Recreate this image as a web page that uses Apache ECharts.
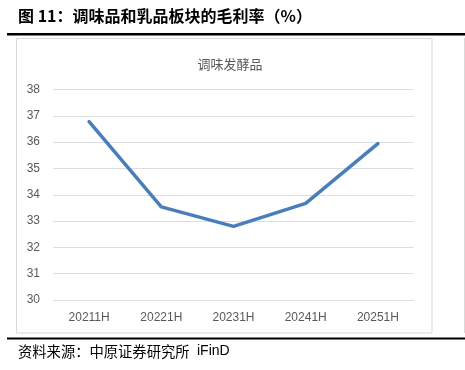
<!DOCTYPE html>
<html><head><meta charset="utf-8">
<script src="https://cdn.jsdelivr.net/npm/echarts@6/dist/echarts.min.js"></script>
<style>html,body{margin:0;padding:0;background:#fff}#c{width:465px;height:370px}</style>
</head><body><div id="c"></div>
<script>
const categories = ['20211H','20221H','20231H','20241H','20251H'];
const values = [36.78, 33.54, 32.8, 33.67, 35.94];
const yMin = 30, yMax = 38, yStep = 1;
const figTitle = '图 11：调味品和乳品板块的毛利率（%）';
const chartTitle = '调味发酵品';
const sourceCjk = '资料来源：中原证券研究所';
const sourceLatin = 'iFinD';

const chart = echarts.init(document.getElementById('c'), null, {renderer:'canvas'});
const cjk = '"Noto Sans CJK SC", "Liberation Sans", sans-serif';
chart.setOption({
  animation:false,
  backgroundColor:'#fff',
  title:{text:chartTitle,top:53,left:225,textAlign:'center',
    textStyle:{fontFamily:cjk,fontSize:13,fontWeight:'normal',color:'#595959'}},
  grid:{left:53,right:51,top:89.5,bottom:70,containLabel:false},
  xAxis:{type:'category',data:categories,boundaryGap:true,
    axisLine:{show:false},axisTick:{show:false},
    axisLabel:{color:'#595959',fontSize:12,fontFamily:'"Liberation Sans", Arial, sans-serif',margin:12}},
  yAxis:{type:'value',min:yMin,max:yMax,interval:yStep,
    axisLine:{show:false},axisTick:{show:false},
    axisLabel:{color:'#595959',fontSize:12,fontFamily:'"Liberation Sans", Arial, sans-serif',margin:13}},
  series:[{type:'line',data:values,symbol:'none',
    lineStyle:{color:'#4a7ebb',width:3.5,cap:'round',join:'round'}}],
  graphic:[
    {type:'text',left:18,top:8,style:{text:figTitle,font:'bold 16px "Noto Sans CJK SC", sans-serif',fill:'#000'}},
    {type:'rect',shape:{x:7,y:33,width:458,height:2.5},style:{fill:'#000'}},
    {type:'rect',shape:{x:16.5,y:38.5,width:415.5,height:294.5},style:{fill:'none',stroke:'#d9d9d9',lineWidth:1},z:-1},
    {type:'line',shape:{x1:464.5,y1:38,x2:464.5,y2:333},style:{stroke:'#d9d9d9',lineWidth:1}},
    {type:'rect',shape:{x:7,y:337.5,width:458,height:2},style:{fill:'#000'}},
    {type:'text',left:18,top:344,style:{text:sourceCjk,font:'14.3px "Noto Sans CJK SC", sans-serif',fill:'#000'}},
    {type:'text',left:197,top:344,style:{text:sourceLatin,font:'14px "Liberation Sans", sans-serif',fill:'#000'}}
  ]
});
</script></body></html>
